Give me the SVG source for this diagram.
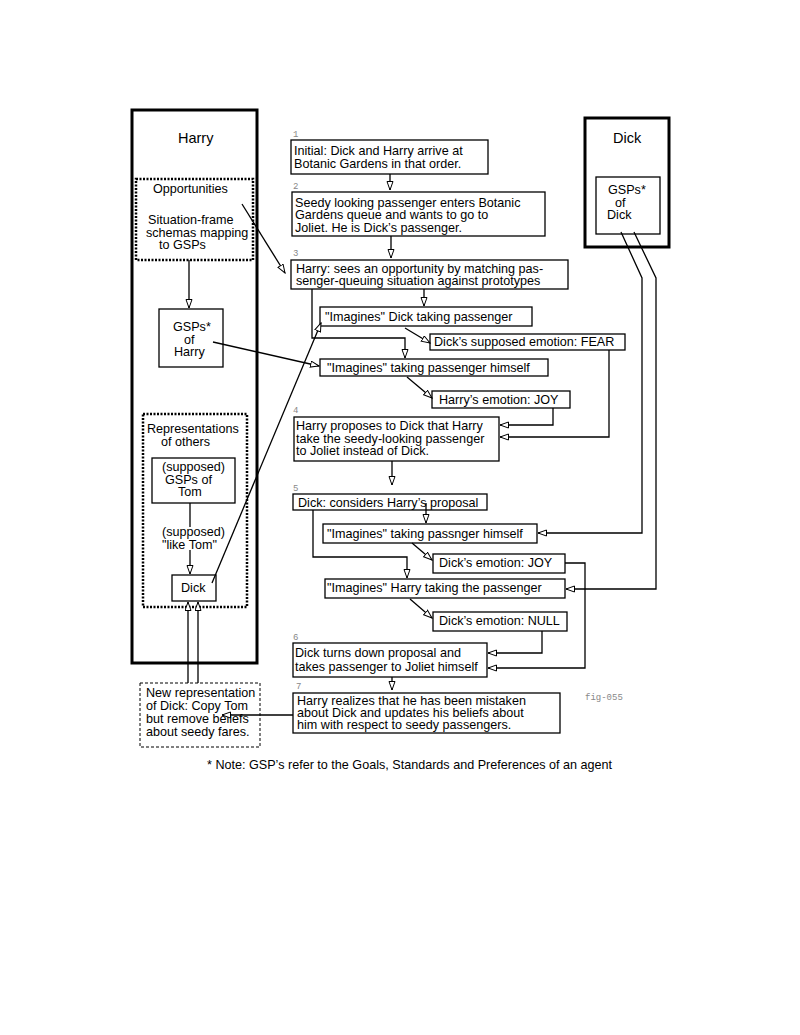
<svg xmlns="http://www.w3.org/2000/svg" width="800" height="1035" viewBox="0 0 800 1035">
<defs>
<marker id="ah" markerWidth="10" markerHeight="8" refX="9" refY="3.5" orient="auto" markerUnits="userSpaceOnUse">
<path d="M0.5,0.5 L9,3.5 L0.5,6.5 z" fill="#fff" stroke="#000" stroke-width="1"/>
</marker>
</defs>
<style>
text{font-family:"Liberation Sans",Arial,sans-serif;font-size:12.6px;fill:#000}
.t{font-size:14.5px}
.n{font-family:"Liberation Mono","DejaVu Sans Mono",monospace;font-size:9px;fill:#888}
.b{fill:#fff;stroke:#000;stroke-width:1.3}
.thick{fill:none;stroke:#000;stroke-width:3}
.dot{fill:none;stroke:#000;stroke-width:2.5;stroke-dasharray:2 1.5}
.dash{fill:none;stroke:#000;stroke-width:1;stroke-dasharray:3 2}
.c{fill:none;stroke:#000;stroke-width:1.3}
.a{marker-end:url(#ah)}
</style>
<rect width="800" height="1035" fill="#fff"/>

<g id="harry">
<rect class="thick" x="132" y="110" width="125" height="553"/>
<text class="t" x="178" y="143">Harry</text>
</g>
<g id="opportunities">
<rect class="dot" x="136" y="179" width="117" height="81"/>
<text x="153" y="193">Opportunities</text>
<text x="148" y="224">Situation-frame</text>
<text x="146" y="236.5">schemas mapping</text>
<text x="159" y="249">to GSPs</text>
</g>
<g id="gsps-harry">
<rect class="b" x="159" y="309" width="64" height="58"/>
<text x="173" y="331">GSPs*</text>
<text x="184" y="343.5">of</text>
<text x="174" y="356">Harry</text>
</g>
<g id="representations">
<rect class="dot" x="143" y="414" width="104" height="193"/>
<text x="147" y="433">Representations</text>
<text x="161" y="446">of others</text>
</g>
<g id="tom">
<rect class="b" x="152" y="458" width="83" height="45"/>
<text x="162" y="471">(supposed)</text>
<text x="165" y="483.5">GSPs of</text>
<text x="178" y="496">Tom</text>
</g>
<g id="like-tom">
<text x="162" y="536">(supposed)</text>
<text x="162" y="548.5">"like Tom"</text>
</g>
<g id="dick-rep">
<rect class="b" x="172" y="575" width="44" height="26"/>
<text x="181" y="592">Dick</text>
</g>
<g id="new-rep">
<rect class="dash" x="140" y="683" width="120" height="64"/>
<text x="146" y="697">New representation</text>
<text x="146" y="710">of Dick: Copy Tom</text>
<text x="146" y="723">but remove beliefs</text>
<text x="146" y="736">about seedy fares.</text>
</g>

<g id="dick">
<rect class="thick" x="585" y="118" width="84" height="129"/>
<text class="t" x="613" y="143">Dick</text>
</g>
<g id="gsps-dick">
<rect class="b" x="596" y="177" width="64" height="57"/>
<text x="608" y="194">GSPs*</text>
<text x="615" y="206.5">of</text>
<text x="607" y="219">Dick</text>
</g>

<g id="s1">
<text class="n" x="293" y="137">1</text>
<rect class="b" x="291" y="140" width="197" height="34"/>
<text x="294" y="154.5">Initial: Dick and Harry arrive at</text>
<text x="294" y="167.5">Botanic Gardens in that order.</text>
</g>
<g id="s2">
<text class="n" x="293" y="189">2</text>
<rect class="b" x="292" y="192" width="253" height="44"/>
<text x="295" y="206.5">Seedy looking passenger enters Botanic</text>
<text x="295" y="219">Gardens queue and wants to go to</text>
<text x="295" y="231.5">Joliet. He is Dick’s passenger.</text>
</g>
<g id="s3">
<text class="n" x="293" y="256">3</text>
<rect class="b" x="291" y="260" width="277" height="29"/>
<text x="296" y="273">Harry: sees an opportunity by matching pas-</text>
<text x="296" y="285">senger-queuing situation against prototypes</text>
</g>
<g id="imagines-dick">
<rect class="b" x="320" y="307" width="212" height="19"/>
<text x="325" y="321">"Imagines" Dick taking passenger</text>
</g>
<g id="fear">
<rect class="b" x="430" y="334" width="195" height="16"/>
<text x="434" y="346">Dick’s supposed emotion: FEAR</text>
</g>
<g id="imagines-himself">
<rect class="b" x="320" y="359" width="228" height="17"/>
<text x="327" y="372">"Imagines" taking passenger himself</text>
</g>
<g id="harry-joy">
<rect class="b" x="432" y="391" width="138" height="17"/>
<text x="439" y="404">Harry’s emotion: JOY</text>
</g>
<g id="s4">
<text class="n" x="293" y="413">4</text>
<rect class="b" x="294" y="417" width="205" height="44"/>
<text x="296" y="430">Harry proposes to Dick that Harry</text>
<text x="296" y="442.5">take the seedy-looking passenger</text>
<text x="296" y="455">to Joliet instead of Dick.</text>
</g>
<g id="s5">
<text class="n" x="293" y="491">5</text>
<rect class="b" x="293" y="494" width="194" height="16"/>
<text x="298" y="507">Dick: considers Harry’s proposal</text>
</g>
<g id="imagines-passnger">
<rect class="b" x="323" y="524" width="214" height="19"/>
<text x="327" y="538">"Imagines" taking passnger himself</text>
</g>
<g id="dick-joy">
<rect class="b" x="433" y="554" width="132" height="19"/>
<text x="439" y="567">Dick’s emotion: JOY</text>
</g>
<g id="imagines-harry">
<rect class="b" x="325" y="579" width="240" height="19"/>
<text x="327" y="592">"Imagines" Harry taking the passenger</text>
</g>
<g id="dick-null">
<rect class="b" x="433" y="612" width="134" height="19"/>
<text x="439" y="625">Dick’s emotion: NULL</text>
</g>
<g id="s6">
<text class="n" x="293" y="640">6</text>
<rect class="b" x="293" y="643" width="194" height="34"/>
<text x="295" y="657">Dick turns down proposal and</text>
<text x="295" y="671">takes passenger to Joliet himself</text>
</g>
<g id="s7">
<text class="n" x="296" y="689">7</text>
<rect class="b" x="293" y="693" width="267" height="40"/>
<text x="297" y="705">Harry realizes that he has been mistaken</text>
<text x="297" y="717">about Dick and updates his beliefs about</text>
<text x="297" y="729">him with respect to seedy passengers.</text>
</g>

<g id="connectors">
<path class="c a" d="M390,174 V190"/>
<path class="c a" d="M391,236 V258"/>
<path class="c a" d="M242,204 L285,273"/>
<path class="c a" d="M189,260 V308"/>
<path class="c a" d="M424,289 V306"/>
<path class="c a" d="M312,289 V338 H405 V358"/>
<path class="c a" d="M405,328 L430,343"/>
<path class="c a" d="M407,377 L432,398"/>
<path class="c a" d="M213,342 L319,366"/>
<path class="c a" d="M212,583 L321,323"/>
<path class="c a" d="M553,408 V425 H500"/>
<path class="c a" d="M609,350 V437 H500"/>
<path class="c a" d="M392,461 V485"/>
<path class="c a" d="M426,503 V523"/>
<path class="c a" d="M313,510 V557 H407 V578"/>
<path class="c a" d="M412,543 L432,560"/>
<path class="c a" d="M410,599 L432,618"/>
<path class="c a" d="M621,232 L642,278 V533 H538"/>
<path class="c a" d="M634,232 L656,278 V589 H566"/>
<path class="c a" d="M542,631 V653 H488"/>
<path class="c a" d="M565,563 H585 V668 H488"/>
<path class="c a" d="M392,677 V690"/>
<path class="c a" d="M293,715 H222"/>
<path class="c a" d="M188,683 V602"/>
<path class="c a" d="M198,683 V602"/>
<path class="c" d="M190,503 V527"/>
<path class="c a" d="M190,550 V574"/>
</g>

<text class="n" x="585" y="700">fig-055</text>
<text x="207" y="769">* Note: GSP’s refer to the Goals, Standards and Preferences of an agent</text>
</svg>
